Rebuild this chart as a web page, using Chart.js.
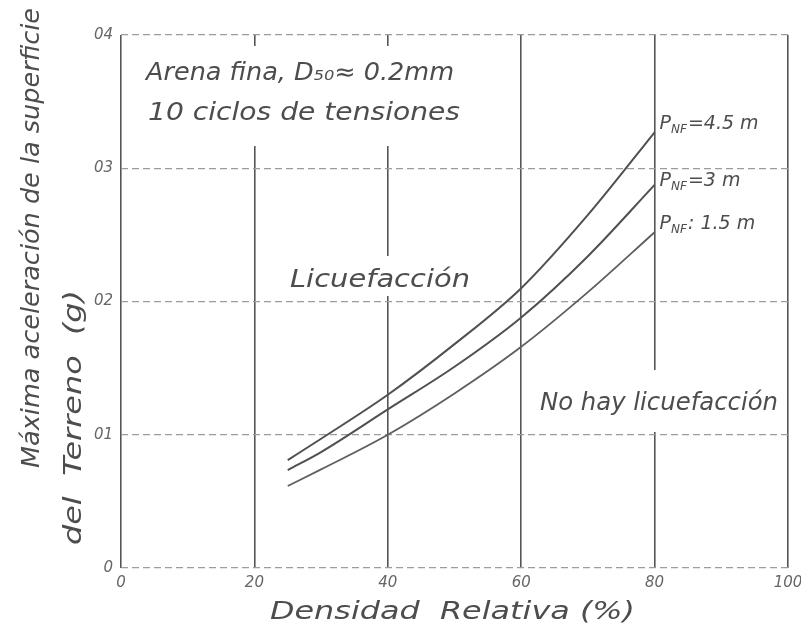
<!DOCTYPE html>
<html>
<head>
<meta charset="utf-8">
<script src="https://cdn.jsdelivr.net/npm/chart.js@4/dist/chart.umd.min.js"></script>
<style>
  html, body { margin: 0; padding: 0; background: #fff; }
  #wrap { width: 801px; height: 637px; }
</style>
</head>
<body>
<div id="wrap"><canvas id="chart" width="801" height="637"></canvas></div>
<script>
// Densidad relativa (%) y aceleracion maxima (g)
const densidad = [25, 30, 40, 50, 60, 70, 80];
const aceleracionPnf45 = [0.081, 0.097, 0.130, 0.168, 0.210, 0.265, 0.327];
const aceleracionPnf30 = [0.0735, 0.087, 0.119, 0.151, 0.188, 0.234, 0.2875];
const aceleracionPnf15 = [0.0615, 0.074, 0.100, 0.131, 0.166, 0.207, 0.252];
const xTickLabels = ['0', '20', '40', '60', '80', '100'];
const yTickLabels = ['0', '01', '02', '03', '04'];

const ink = '#4d4d4d';

function toPoints(values) {
    return densidad.map((d, i) => ({ x: d, y: values[i] }));
}

// writes text stretched sideways to a given width (wide handwriting)
function handText(ctx, text, x, y, size, width) {
    ctx.font = 'italic ' + size + 'px "DejaVu Sans"';
    const w = ctx.measureText(text).width;
    ctx.save();
    ctx.translate(x, y);
    ctx.scale(width / w, 1);
    ctx.fillText(text, 0, 0);
    ctx.restore();
}

const textPlugin = {
    id: 'textPlugin',
    afterDraw(chart) {
        const ctx = chart.ctx;
        const xs = chart.scales.x;
        const ys = chart.scales.y;
        ctx.save();

        // gaps in the vertical lines where the writing sits
        ctx.fillStyle = '#fff';
        ctx.fillRect(140, 46, 330, 100);
        ctx.fillRect(286, 256, 190, 40);
        ctx.fillRect(536, 370, 246, 62);

        ctx.fillStyle = ink;
        ctx.textBaseline = 'middle';
        ctx.textAlign = 'left';

        handText(ctx, 'Arena fina, D\u2085\u2080\u2248 0.2mm', 146, 74, 24, 308);
        handText(ctx, '10 ciclos de tensiones', 148, 114, 24, 312);
        handText(ctx, 'Licuefacción', 290, 280, 25, 180);
        handText(ctx, 'No hay licuefacción', 540, 404, 24, 238);

        // P_NF labels at the end of each curve
        const labels = [
            { text: '=4.5 m', v: aceleracionPnf45, dy: -8 },
            { text: '=3 m', v: aceleracionPnf30, dy: -4 },
            { text: ': 1.5 m', v: aceleracionPnf15, dy: -8 }
        ];
        labels.forEach(l => {
            const px = xs.getPixelForValue(densidad[densidad.length - 1]) + 5;
            const py = ys.getPixelForValue(l.v[l.v.length - 1]) + l.dy;
            ctx.font = 'italic 19px "DejaVu Sans"';
            ctx.fillText('P', px, py);
            let w = ctx.measureText('P').width;
            ctx.font = 'italic 12px "DejaVu Sans"';
            ctx.fillText('NF', px + w, py + 6);
            w += ctx.measureText('NF').width + 1;
            ctx.font = 'italic 19px "DejaVu Sans"';
            ctx.fillText(l.text, px + w, py);
        });

        // axis titles
        ctx.save();
        ctx.translate(32, 468);
        ctx.rotate(-Math.PI / 2);
        handText(ctx, 'Máxima aceleración de la superficie', 0, 0, 25, 460);
        ctx.restore();
        ctx.save();
        ctx.translate(74, 545);
        ctx.rotate(-Math.PI / 2);
        handText(ctx, 'del  Terreno  (g)', 0, 0, 25, 255);
        ctx.restore();

        handText(ctx, 'Densidad  Relativa (%)', 270, 612, 25, 365);

        ctx.restore();
    }
};

const lineStyle = {
    borderColor: '#505050',
    borderWidth: 2,
    pointRadius: 0,
    fill: false,
    tension: 0.4,
    cubicInterpolationMode: 'monotone'
};

new Chart(document.getElementById('chart').getContext('2d'), {
    type: 'line',
    data: {
        datasets: [
            { ...lineStyle, label: 'PNF = 4.5 m', data: toPoints(aceleracionPnf45) },
            { ...lineStyle, label: 'PNF = 3 m', data: toPoints(aceleracionPnf30) },
            { ...lineStyle, label: 'PNF = 1.5 m', data: toPoints(aceleracionPnf15), borderColor: '#5e5e5e', borderWidth: 1.8 }
        ]
    },
    options: {
        animation: false,
        responsive: false,
        events: [],
        layout: {
            padding: { top: 35, right: 0, left: 0, bottom: 0 }
        },
        plugins: {
            legend: { display: false },
            tooltip: { enabled: false },
        },
        scales: {
            x: {
                type: 'linear',
                min: 0,
                max: 100,
                afterFit: (scale) => { scale.height = 69; scale.paddingRight = 13; },
                border: { display: false },
                grid: {
                    color: '#555',
                    lineWidth: 1.6,
                    drawTicks: false,
                },
                ticks: {
                    stepSize: 20,
                    padding: 6,
                    color: '#666',
                    font: { family: 'DejaVu Sans', style: 'italic', size: 15 },
                    callback: (v) => xTickLabels[v / 20],
                },
            },
            y: {
                min: 0,
                max: 0.4,
                afterFit: (scale) => { scale.width = 121; },
                border: { display: false, dash: [7, 4] },
                grid: {
                    color: '#9c9c9c',
                    lineWidth: 1.2,
                    drawTicks: false,
                },
                ticks: {
                    stepSize: 0.1,
                    padding: 8,
                    color: '#666',
                    font: { family: 'DejaVu Sans', style: 'italic', size: 15 },
                    callback: (v, i) => yTickLabels[i],
                },
            },
        },
    },
    plugins: [textPlugin],
});
</script>
</body>
</html>
